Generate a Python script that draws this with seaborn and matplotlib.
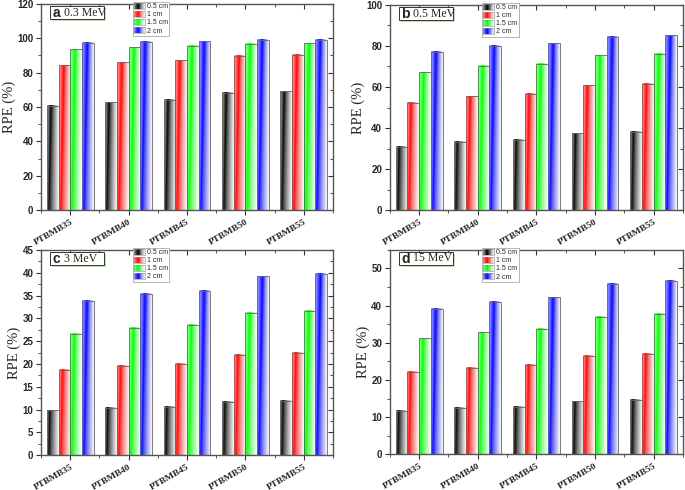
import numpy as np
import pandas as pd
import matplotlib
matplotlib.use("Agg")
import matplotlib.pyplot as plt
import seaborn as sns
from matplotlib.patches import Rectangle
from matplotlib.legend_handler import HandlerBase

# ==========================================================
# Data
# ==========================================================

samples = ["PTBMB35", "PTBMB40", "PTBMB45", "PTBMB50", "PTBMB55"]
thickness = ["0.5 cm", "1 cm", "1.5 cm", "2 cm"]
colors = ["#000000", "#ff0000", "#00ff00", "#0000ff"]

rpe_03 = {
    "0.5 cm": [60.5, 62.8, 64.3, 68.2, 69.2],
    "1 cm": [84.3, 86.0, 87.2, 89.8, 90.4],
    "1.5 cm": [93.6, 94.8, 95.4, 96.6, 97.0],
    "2 cm": [97.4, 97.9, 98.2, 98.9, 98.9],
}
rpe_05 = {
    "0.5 cm": [31.0, 33.3, 34.3, 37.4, 38.1],
    "1 cm": [52.4, 55.5, 56.8, 60.8, 61.6],
    "1.5 cm": [67.2, 70.2, 71.4, 75.4, 76.1],
    "2 cm": [77.2, 80.1, 81.2, 84.5, 85.2],
}
rpe_3 = {
    "0.5 cm": [9.8, 10.4, 10.6, 11.7, 11.9],
    "1 cm": [18.7, 19.6, 20.0, 22.0, 22.4],
    "1.5 cm": [26.6, 27.9, 28.6, 31.2, 31.7],
    "2 cm": [33.8, 35.4, 36.1, 39.2, 39.8],
}
rpe_15 = {
    "0.5 cm": [11.6, 12.4, 12.8, 14.2, 14.6],
    "1 cm": [22.1, 23.3, 24.0, 26.4, 27.1],
    "1.5 cm": [31.2, 32.8, 33.7, 36.9, 37.7],
    "2 cm": [39.2, 41.1, 42.2, 45.9, 46.7],
}

panels = [
    ("a", "0.3 MeV", rpe_03, 120, 20, 10),
    ("b", "0.5 MeV", rpe_05, 100, 20, 10),
    ("c", "3 MeV", rpe_3, 45, 5, 2.5),
    ("d", "15 MeV", rpe_15, 55, 10, 5),
]

positions = [
    [0.060, 0.571, 0.426, 0.421],
    [0.569, 0.571, 0.428, 0.419],
    [0.060, 0.071, 0.426, 0.419],
    [0.569, 0.073, 0.428, 0.417],
]

SERIF = "Liberation Serif"
SANS = "Liberation Sans"


def gradient_image(color, yfrac_top, nx=40, ny=120):
    rgb = np.array(matplotlib.colors.to_rgb(color))
    x = (np.arange(nx) + 0.5) / nx
    yf = (np.arange(ny) + 0.5) / ny * yfrac_top
    X, Y = np.meshgrid(x, yf)
    c = 0.15 + 0.4 * Y
    w = np.where(
        X < c,
        0.7 * np.clip((c - X) / np.maximum(c, 1e-3), 0, 1),
        0.98 * np.clip((X - c) / (1 - c), 0, 1) ** 0.7,
    )
    img = rgb[None, None, :] * (1 - w[..., None]) + w[..., None]
    return img


class GradientHandler(HandlerBase):
    def create_artists(self, legend, orig_handle, xdescent, ydescent,
                       width, height, fontsize, trans):
        color = orig_handle.get_facecolor()
        arts = []
        n = 12
        for i in range(n):
            t = (i + 0.5) / n
            c = 0.35
            if t < c:
                w = 0.6 * (c - t) / c
            else:
                w = 0.95 * ((t - c) / (1 - c)) ** 0.8
            col = np.array(color[:3]) * (1 - w) + w
            r = Rectangle((-xdescent + width * i / n, -ydescent), width / n + 0.2,
                          height, facecolor=col, edgecolor="none",
                          transform=trans)
            arts.append(r)
        border = Rectangle((-xdescent, -ydescent), width, height,
                           facecolor="none", edgecolor="#888888", lw=0.4,
                           transform=trans)
        arts.append(border)
        return arts


sns.set_theme(style="white")

fig = plt.figure(figsize=(6.85, 4.9), dpi=100)

for (letter, energy, values, ytop, major, minor), pos in zip(panels, positions):
    df = pd.DataFrame(
        [(s, t, values[t][i]) for t in thickness for i, s in enumerate(samples)],
        columns=["Sample", "Thickness", "RPE"],
    )
    ax = fig.add_axes(pos)
    sns.barplot(
        data=df, x="Sample", y="RPE", hue="Thickness",
        hue_order=thickness, order=samples, palette=colors,
        width=0.8, legend=False, ax=ax, errorbar=None, saturation=1,
    )

    # gradient fills on top of seaborn's bars
    for patch in list(ax.patches):
        x0, y0 = patch.get_x(), patch.get_y()
        w, h = patch.get_width(), patch.get_height()
        col = patch.get_facecolor()
        img = gradient_image(col, h / ytop)
        ax.imshow(img, extent=(x0, x0 + w, y0, y0 + h), origin="lower",
                  aspect="auto", zorder=1.5, interpolation="bilinear")
        patch.set_facecolor("none")
        patch.set_edgecolor("#666666")
        patch.set_linewidth(0.6)
        patch.set_zorder(2)

    ax.set_xlim(-0.5, 4.5)
    ax.set_ylim(0, ytop)
    ax.set_yticks(np.arange(0, ytop + 0.01 if ytop % major == 0 else ytop, major))
    ax.set_yticks(np.arange(0, ytop + 0.01, minor), minor=True)
    ax.set_xticks(np.arange(-0.5, 5, 1), minor=True)

    ax.set_xlabel("")
    ax.set_ylabel("RPE (%)", fontfamily=SERIF, fontsize=10.5, labelpad=1)

    ax.set_xticks(range(len(samples)))
    ax.set_xticklabels(samples, rotation=30, ha="right", rotation_mode="anchor",
                       fontfamily=SERIF, fontweight="bold", fontsize=6.8)
    for lab in ax.get_yticklabels():
        lab.set_fontfamily(SANS)
        lab.set_fontweight("bold")
        lab.set_fontsize(7)

    ax.tick_params(axis="both", which="major", direction="out", length=3.5,
                   width=0.8, color="#333333", pad=2, left=True, bottom=True)
    ax.tick_params(axis="both", which="minor", direction="out", length=2,
                   width=0.6, color="#333333", left=True, bottom=True)

    for side in ["top", "right"]:
        sec = ax.secondary_xaxis("top") if side == "top" else ax.secondary_yaxis("right")
        if side == "top":
            sec.set_xticks(range(len(samples)))
            sec.set_xticks(np.arange(-0.5, 5, 1), minor=True)
            sec.set_xticklabels([])
        else:
            sec.set_yticks(ax.get_yticks())
            sec.set_yticks(np.arange(0, ytop + 0.01, minor), minor=True)
            sec.set_yticklabels([])
        sec.tick_params(which="major", direction="in", length=3.5, width=0.8,
                        color="#333333")
        sec.tick_params(which="minor", direction="in", length=2, width=0.6,
                        color="#333333")
        for sp in sec.spines.values():
            sp.set_visible(False)

    for sp in ax.spines.values():
        sp.set_visible(True)
        sp.set_color("#555555")
        sp.set_linewidth(1.0)

    # panel label box with green shadow
    ax.add_patch(Rectangle((0.038, 0.915), 0.185, 0.065, transform=ax.transAxes,
                           facecolor="#b8e8a8", edgecolor="none", zorder=5,
                           clip_on=False))
    ax.add_patch(Rectangle((0.03, 0.925), 0.185, 0.065, transform=ax.transAxes,
                           facecolor="white", edgecolor="#333333", lw=0.7,
                           zorder=6, clip_on=False))
    ax.text(0.04, 0.957, letter, transform=ax.transAxes, fontfamily=SANS,
            fontweight="bold", fontsize=10, va="center", ha="left", zorder=7)
    ax.text(0.078, 0.958, energy, transform=ax.transAxes, fontfamily=SERIF,
            fontsize=8.5, va="center", ha="left", zorder=7)

    handles = [Rectangle((0, 0), 1, 1, facecolor=c) for c in colors]
    leg = ax.legend(handles, thickness, handler_map={Rectangle: GradientHandler()},
                    loc="upper left", bbox_to_anchor=(0.315, 1.01),
                    prop={"family": SANS, "size": 5}, handlelength=1.6,
                    handleheight=0.9, handletextpad=0.3, labelspacing=0.12,
                    borderpad=0.15, borderaxespad=0.0, fancybox=False,
                    framealpha=1, edgecolor="#999999")
    leg.get_frame().set_linewidth(0.5)
    leg.set_zorder(8)

plt.savefig("out.png", dpi=100)
plt.close()
